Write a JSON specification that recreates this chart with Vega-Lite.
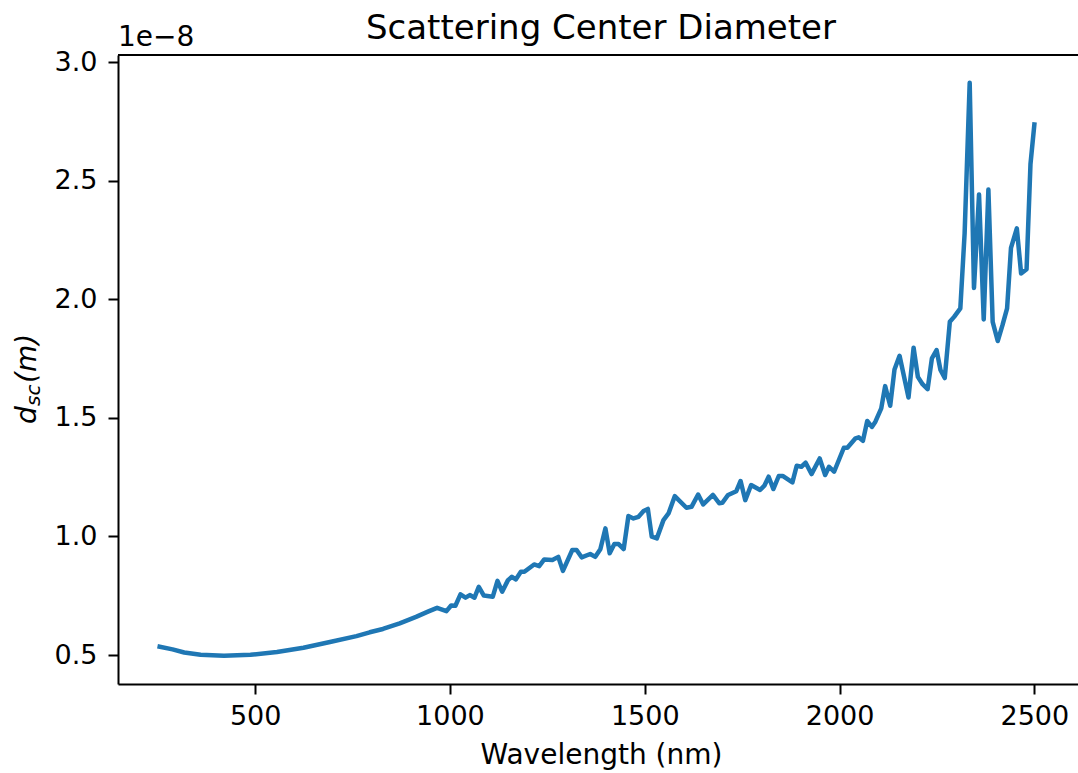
{
  "$schema": "https://vega.github.io/schema/vega-lite/v6.json",
  "width": 960,
  "height": 629,
  "autosize": {"type": "none"},
  "padding": {"left": 118, "top": 55, "right": 0, "bottom": 89},
  "background": "white",
  "title": {
    "text": "Scattering Center Diameter",
    "font": "DejaVu Sans",
    "fontSize": 34,
    "fontWeight": "normal",
    "color": "black",
    "anchor": "middle",
    "frame": "group",
    "baseline": "alphabetic",
    "dx": 3,
    "offset": -49
  },
  "config": {
    "view": {"stroke": null},
    "axis": {
      "grid": false,
      "domainColor": "black",
      "domainWidth": 2,
      "tickColor": "black",
      "tickWidth": 2,
      "tickSize": 10,
      "labelFont": "DejaVu Sans",
      "labelFontSize": 27,
      "labelColor": "black",
      "titleFont": "DejaVu Sans",
      "titleFontSize": 28,
      "titleFontWeight": "normal",
      "titleColor": "black"
    }
  },
  "layer": [
    {
      "data": {
        "values": [
          {"wavelength": 255, "d_sc": 0.535e-8},
          {"wavelength": 288, "d_sc": 0.524e-8},
          {"wavelength": 318, "d_sc": 0.511e-8},
          {"wavelength": 360, "d_sc": 0.501e-8},
          {"wavelength": 420, "d_sc": 0.497e-8},
          {"wavelength": 488, "d_sc": 0.501e-8},
          {"wavelength": 556, "d_sc": 0.513e-8},
          {"wavelength": 624, "d_sc": 0.531e-8},
          {"wavelength": 692, "d_sc": 0.555e-8},
          {"wavelength": 760, "d_sc": 0.580e-8},
          {"wavelength": 794, "d_sc": 0.596e-8},
          {"wavelength": 828, "d_sc": 0.610e-8},
          {"wavelength": 871, "d_sc": 0.634e-8},
          {"wavelength": 913, "d_sc": 0.661e-8},
          {"wavelength": 945, "d_sc": 0.684e-8},
          {"wavelength": 967, "d_sc": 0.699e-8},
          {"wavelength": 991, "d_sc": 0.685e-8},
          {"wavelength": 1003, "d_sc": 0.709e-8},
          {"wavelength": 1014, "d_sc": 0.708e-8},
          {"wavelength": 1027, "d_sc": 0.756e-8},
          {"wavelength": 1040, "d_sc": 0.742e-8},
          {"wavelength": 1051, "d_sc": 0.753e-8},
          {"wavelength": 1063, "d_sc": 0.742e-8},
          {"wavelength": 1074, "d_sc": 0.788e-8},
          {"wavelength": 1087, "d_sc": 0.751e-8},
          {"wavelength": 1110, "d_sc": 0.746e-8},
          {"wavelength": 1122, "d_sc": 0.813e-8},
          {"wavelength": 1134, "d_sc": 0.767e-8},
          {"wavelength": 1149, "d_sc": 0.816e-8},
          {"wavelength": 1159, "d_sc": 0.830e-8},
          {"wavelength": 1169, "d_sc": 0.819e-8},
          {"wavelength": 1182, "d_sc": 0.851e-8},
          {"wavelength": 1191, "d_sc": 0.851e-8},
          {"wavelength": 1216, "d_sc": 0.882e-8},
          {"wavelength": 1229, "d_sc": 0.875e-8},
          {"wavelength": 1242, "d_sc": 0.903e-8},
          {"wavelength": 1263, "d_sc": 0.901e-8},
          {"wavelength": 1278, "d_sc": 0.914e-8},
          {"wavelength": 1290, "d_sc": 0.855e-8},
          {"wavelength": 1314, "d_sc": 0.943e-8},
          {"wavelength": 1325, "d_sc": 0.943e-8},
          {"wavelength": 1338, "d_sc": 0.912e-8},
          {"wavelength": 1360, "d_sc": 0.926e-8},
          {"wavelength": 1373, "d_sc": 0.914e-8},
          {"wavelength": 1386, "d_sc": 0.946e-8},
          {"wavelength": 1399, "d_sc": 1.034e-8},
          {"wavelength": 1410, "d_sc": 0.929e-8},
          {"wavelength": 1422, "d_sc": 0.968e-8},
          {"wavelength": 1433, "d_sc": 0.968e-8},
          {"wavelength": 1446, "d_sc": 0.947e-8},
          {"wavelength": 1458, "d_sc": 1.086e-8},
          {"wavelength": 1471, "d_sc": 1.076e-8},
          {"wavelength": 1484, "d_sc": 1.083e-8},
          {"wavelength": 1497, "d_sc": 1.107e-8},
          {"wavelength": 1508, "d_sc": 1.116e-8},
          {"wavelength": 1518, "d_sc": 0.999e-8},
          {"wavelength": 1531, "d_sc": 0.992e-8},
          {"wavelength": 1548, "d_sc": 1.069e-8},
          {"wavelength": 1561, "d_sc": 1.097e-8},
          {"wavelength": 1577, "d_sc": 1.170e-8},
          {"wavelength": 1607, "d_sc": 1.121e-8},
          {"wavelength": 1620, "d_sc": 1.125e-8},
          {"wavelength": 1637, "d_sc": 1.177e-8},
          {"wavelength": 1650, "d_sc": 1.135e-8},
          {"wavelength": 1675, "d_sc": 1.175e-8},
          {"wavelength": 1691, "d_sc": 1.140e-8},
          {"wavelength": 1699, "d_sc": 1.142e-8},
          {"wavelength": 1714, "d_sc": 1.175e-8},
          {"wavelength": 1735, "d_sc": 1.191e-8},
          {"wavelength": 1746, "d_sc": 1.234e-8},
          {"wavelength": 1758, "d_sc": 1.153e-8},
          {"wavelength": 1773, "d_sc": 1.217e-8},
          {"wavelength": 1796, "d_sc": 1.196e-8},
          {"wavelength": 1807, "d_sc": 1.214e-8},
          {"wavelength": 1818, "d_sc": 1.252e-8},
          {"wavelength": 1830, "d_sc": 1.200e-8},
          {"wavelength": 1844, "d_sc": 1.255e-8},
          {"wavelength": 1854, "d_sc": 1.255e-8},
          {"wavelength": 1879, "d_sc": 1.228e-8},
          {"wavelength": 1890, "d_sc": 1.298e-8},
          {"wavelength": 1902, "d_sc": 1.294e-8},
          {"wavelength": 1913, "d_sc": 1.311e-8},
          {"wavelength": 1928, "d_sc": 1.263e-8},
          {"wavelength": 1949, "d_sc": 1.329e-8},
          {"wavelength": 1963, "d_sc": 1.259e-8},
          {"wavelength": 1973, "d_sc": 1.294e-8},
          {"wavelength": 1986, "d_sc": 1.273e-8},
          {"wavelength": 2011, "d_sc": 1.374e-8},
          {"wavelength": 2020, "d_sc": 1.374e-8},
          {"wavelength": 2041, "d_sc": 1.414e-8},
          {"wavelength": 2049, "d_sc": 1.418e-8},
          {"wavelength": 2060, "d_sc": 1.403e-8},
          {"wavelength": 2071, "d_sc": 1.487e-8},
          {"wavelength": 2083, "d_sc": 1.462e-8},
          {"wavelength": 2092, "d_sc": 1.484e-8},
          {"wavelength": 2107, "d_sc": 1.540e-8},
          {"wavelength": 2117, "d_sc": 1.634e-8},
          {"wavelength": 2130, "d_sc": 1.551e-8},
          {"wavelength": 2141, "d_sc": 1.704e-8},
          {"wavelength": 2154, "d_sc": 1.762e-8},
          {"wavelength": 2177, "d_sc": 1.586e-8},
          {"wavelength": 2190, "d_sc": 1.796e-8},
          {"wavelength": 2201, "d_sc": 1.673e-8},
          {"wavelength": 2213, "d_sc": 1.642e-8},
          {"wavelength": 2226, "d_sc": 1.621e-8},
          {"wavelength": 2237, "d_sc": 1.751e-8},
          {"wavelength": 2249, "d_sc": 1.786e-8},
          {"wavelength": 2259, "d_sc": 1.702e-8},
          {"wavelength": 2270, "d_sc": 1.668e-8},
          {"wavelength": 2283, "d_sc": 1.905e-8},
          {"wavelength": 2294, "d_sc": 1.926e-8},
          {"wavelength": 2310, "d_sc": 1.962e-8},
          {"wavelength": 2321, "d_sc": 2.278e-8},
          {"wavelength": 2334, "d_sc": 2.913e-8},
          {"wavelength": 2345, "d_sc": 2.048e-8},
          {"wavelength": 2358, "d_sc": 2.442e-8},
          {"wavelength": 2370, "d_sc": 1.915e-8},
          {"wavelength": 2382, "d_sc": 2.463e-8},
          {"wavelength": 2393, "d_sc": 1.905e-8},
          {"wavelength": 2406, "d_sc": 1.824e-8},
          {"wavelength": 2418, "d_sc": 1.890e-8},
          {"wavelength": 2430, "d_sc": 1.962e-8},
          {"wavelength": 2440, "d_sc": 2.217e-8},
          {"wavelength": 2455, "d_sc": 2.299e-8},
          {"wavelength": 2466, "d_sc": 2.109e-8},
          {"wavelength": 2480, "d_sc": 2.127e-8},
          {"wavelength": 2490, "d_sc": 2.569e-8},
          {"wavelength": 2500, "d_sc": 2.737e-8}
        ]
      },
      "mark": {"type": "line", "color": "#1f77b4", "strokeWidth": 4.5, "strokeJoin": "round", "strokeCap": "square"},
      "encoding": {
        "x": {
          "field": "wavelength",
          "type": "quantitative",
          "scale": {"domain": [148, 2612], "nice": false, "zero": false},
          "axis": {
            "title": "Wavelength (nm)",
            "values": [500, 1000, 1500, 2000, 2500],
            "format": "d",
            "labelPadding": 9,
            "titlePadding": 12,
            "titleX": 483,
            "titleAnchor": "middle"
          }
        },
        "y": {
          "field": "d_sc",
          "type": "quantitative",
          "scale": {"domain": [0.378e-8, 3.03e-8], "nice": false, "zero": false},
          "axis": {
            "title": null,
            "values": [0.5e-8, 1.0e-8, 1.5e-8, 2.0e-8, 2.5e-8, 3.0e-8],
            "labelExpr": "format(datum.value * 1e8, '.1f')",
            "labelPadding": 11
          }
        }
      }
    },
    {
      "data": {"values": [{}]},
      "mark": {"type": "rule", "color": "black", "strokeWidth": 2},
      "encoding": {"y": {"datum": 3.03e-8, "type": "quantitative"}}
    },
    {
      "data": {"values": [{}]},
      "mark": {"type": "text", "text": "1e−8", "font": "DejaVu Sans", "fontSize": 28, "align": "left", "baseline": "alphabetic", "color": "black"},
      "encoding": {"x": {"value": 0}, "y": {"value": -9}}
    },
    {
      "data": {"values": [{}]},
      "mark": {"type": "text", "text": "d", "font": "DejaVu Sans", "fontStyle": "italic", "fontSize": 28, "angle": 270, "align": "left", "baseline": "alphabetic", "color": "black"},
      "encoding": {"x": {"value": -82}, "y": {"value": 369}}
    },
    {
      "data": {"values": [{}]},
      "mark": {"type": "text", "text": "sc", "font": "DejaVu Sans", "fontStyle": "italic", "fontSize": 20, "angle": 270, "align": "left", "baseline": "alphabetic", "color": "black"},
      "encoding": {"x": {"value": -78}, "y": {"value": 351}}
    },
    {
      "data": {"values": [{}]},
      "mark": {"type": "text", "text": "(m)", "font": "DejaVu Sans", "fontStyle": "italic", "fontSize": 28, "angle": 270, "align": "left", "baseline": "alphabetic", "color": "black"},
      "encoding": {"x": {"value": -82}, "y": {"value": 328}}
    }
  ]
}
